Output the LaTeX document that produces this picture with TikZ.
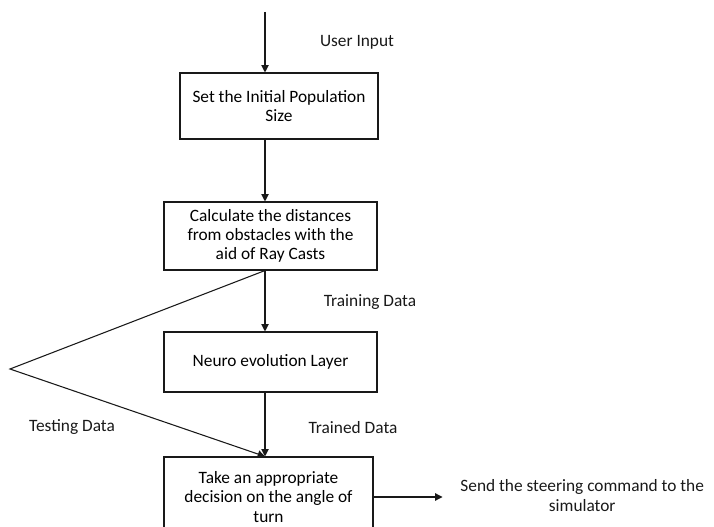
\documentclass[tikz,border=0pt]{standalone}
\usepackage{fontspec}
\setmainfont{Carlito}
\usetikzlibrary{arrows.meta,positioning}
\definecolor{linegray}{RGB}{25,25,25}
\tikzset{
  box/.style ={rectangle, draw=linegray, line width=0.8pt, fill=white, align=center,
               inner sep=2pt},
  flow/.style={-{Triangle[length=5.5pt,width=5.5pt]}, line width=0.8pt, draw=linegray},
  lbl/.style ={align=center, inner sep=1pt, text=linegray}
}

\begin{document}
\begin{tikzpicture}[x=0.75pt, y=-0.75pt, font=\fontsize{13}{14.5}\selectfont]
\useasboundingbox (0,0) rectangle (714,527);
\coordinate (in) at (265,12);
\coordinate (fork) at (10,369);

\node[box, minimum width=148.5pt, minimum height=49.5pt] (b1) at (279,106)
  {Set the Initial Population\\Size};
\node[box, minimum width=159.75pt, minimum height=51pt] (b2) at (270.5,236)
  {Calculate the distances\\from obstacles with the\\aid of Ray Casts};
\node[box, minimum width=159.75pt, minimum height=45pt] (b3) at (270.5,362)
  {Neuro evolution Layer};
\node[box, minimum width=156.75pt, minimum height=60pt] (b4) at (268.5,497)
  {Take an appropriate\\decision on the angle of\\turn};
\coordinate[right=51.75pt of b4.east] (out);
\node[lbl, right=64pt of b4.east, anchor=west, yshift=1pt] (send)
  {Send the steering command to the\\simulator};

\node[lbl] (uin) at (357,42) {User Input};
\node[lbl] (trn) at (370,302) {Training Data};
\node[lbl] (tst) at (72,427) {Testing Data};
\node[lbl] (trd) at (353,428) {Trained Data};

\draw[flow] (in) -- (in |- b1.north);
\draw[flow] (in |- b1.south) -- (in |- b2.north);
\draw[flow] (in |- b2.south) -- (in |- b3.north);
\draw[flow] (in |- b3.south) -- (in |- b4.north);
\draw[flow] (in |- b2.south) -- (fork) -- (in |- b4.north);
\draw[flow] (b4.east) -- (out);
\end{tikzpicture}
\end{document}
